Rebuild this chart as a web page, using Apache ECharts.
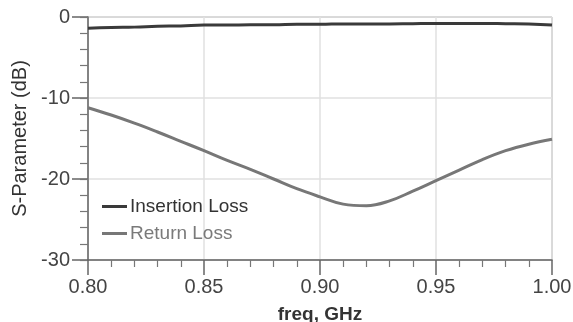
<!DOCTYPE html>
<html>
<head>
<meta charset="utf-8">
<script src="https://cdn.jsdelivr.net/npm/echarts@6/dist/echarts.min.js"></script>
<style>
  html, body { margin: 0; padding: 0; background: #fff; }
  #chart { width: 573px; height: 322px; }
</style>
</head>
<body>
<div id="chart"></div>
<script>
// frequency points, GHz
var freq = [0.80, 0.81, 0.82, 0.83, 0.84, 0.85, 0.86, 0.87, 0.88, 0.89, 0.90,
            0.91, 0.92, 0.93, 0.94, 0.95, 0.96, 0.97, 0.98, 0.99, 1.00];
// S21, dB
var insertionLoss = [-1.4, -1.3, -1.25, -1.15, -1.1, -1.0, -1.0, -0.95, -0.95, -0.9, -0.9,
                     -0.85, -0.85, -0.85, -0.82, -0.8, -0.8, -0.8, -0.82, -0.85, -1.0];
// S11, dB
var returnLoss = [-11.2, -12.1, -13.1, -14.2, -15.35, -16.5, -17.7, -18.8, -20.0, -21.2, -22.2,
                  -23.1, -23.3, -22.7, -21.5, -20.2, -18.9, -17.6, -16.5, -15.7, -15.1];
var seriesNames = ['Insertion Loss', 'Return Loss'];
var xTicks = [0.80, 0.85, 0.90, 0.95, 1.00];
var yTicks = [0, -10, -20, -30];

function pairs(xs, ys) {
    return xs.map(function (x, i) { return [x, ys[i]]; });
}

var chart = echarts.init(document.getElementById('chart'));
var font = '"Liberation Sans", Arial, sans-serif';
var xMin = xTicks[0], xMax = xTicks[xTicks.length - 1];
var yMin = yTicks[yTicks.length - 1], yMax = yTicks[0];

var option = {
    backgroundColor: '#fff',
    animation: false,
    textStyle: { fontFamily: font },
    grid: {
        left: 88, right: 21, top: 17, bottom: 62,
        outerBoundsMode: 'none',
        show: true,
        borderColor: '#8a8a8a',
        borderWidth: 1
    },
    legend: {
        orient: 'vertical',
        left: 97,
        top: 192,
        itemWidth: 25,
        itemHeight: 3,
        itemGap: 8,
        icon: 'rect',
        data: [
            { name: seriesNames[0], textStyle: { color: '#333' } },
            { name: seriesNames[1], textStyle: { color: '#7a7a7a' } }
        ],
        textStyle: { fontSize: 19, fontFamily: font, padding: [0, 0, 0, -2] }
    },
    xAxis: {
        type: 'value',
        position: 'bottom',
        min: xMin,
        max: xMax,
        interval: 0.05,
        name: 'freq, GHz',
        nameLocation: 'middle',
        nameGap: 45,
        nameTextStyle: { fontSize: 19, fontWeight: 'bold', color: '#333', fontFamily: font },
        axisLine: { onZero: false, lineStyle: { color: '#666', width: 1.5 } },
        axisTick: { show: true, length: 15, lineStyle: { color: '#666', width: 1.5 } },
        minorTick: { show: true, splitNumber: 5, length: 7, lineStyle: { color: '#777', width: 1.2 } },
        axisLabel: {
            fontSize: 20, color: '#444', margin: 17,
            formatter: function (v) { return v.toFixed(2); }
        },
        splitLine: { show: true, lineStyle: { color: '#e0e0e0', width: 1.5 } }
    },
    yAxis: [{
        type: 'value',
        position: 'left',
        min: yMin,
        max: yMax,
        interval: 10,
        name: 'S-Parameter (dB)',
        nameLocation: 'middle',
        nameGap: 57,
        nameTextStyle: { fontSize: 20, color: '#333', fontFamily: font },
        axisLine: { show: true, onZero: false, lineStyle: { color: '#666', width: 1.5 } },
        axisTick: { show: true, length: 16, lineStyle: { color: '#666', width: 1.5 } },
        axisLabel: { fontSize: 20, color: '#444', margin: 18 },
        splitLine: { show: true, lineStyle: { color: '#e0e0e0', width: 1.5 } }
    }, {
        // minor ticks every 2 dB
        type: 'value',
        position: 'left',
        min: yMin,
        max: yMax,
        interval: 2,
        axisLine: { show: false, onZero: false },
        axisTick: { show: true, length: 8, lineStyle: { color: '#777', width: 1.2 } },
        axisLabel: { show: false },
        splitLine: { show: false }
    }],
    series: [
        {
            name: seriesNames[0],
            type: 'line',
            smooth: true,
            showSymbol: false,
            data: pairs(freq, insertionLoss),
            lineStyle: { color: '#3a3a3a', width: 3 },
            itemStyle: { color: '#3a3a3a' }
        },
        {
            name: seriesNames[1],
            type: 'line',
            smooth: 0.4,
            showSymbol: false,
            data: pairs(freq, returnLoss),
            lineStyle: { color: '#777', width: 3 },
            itemStyle: { color: '#777' }
        }
    ]
};
chart.setOption(option);
</script>
</body>
</html>
